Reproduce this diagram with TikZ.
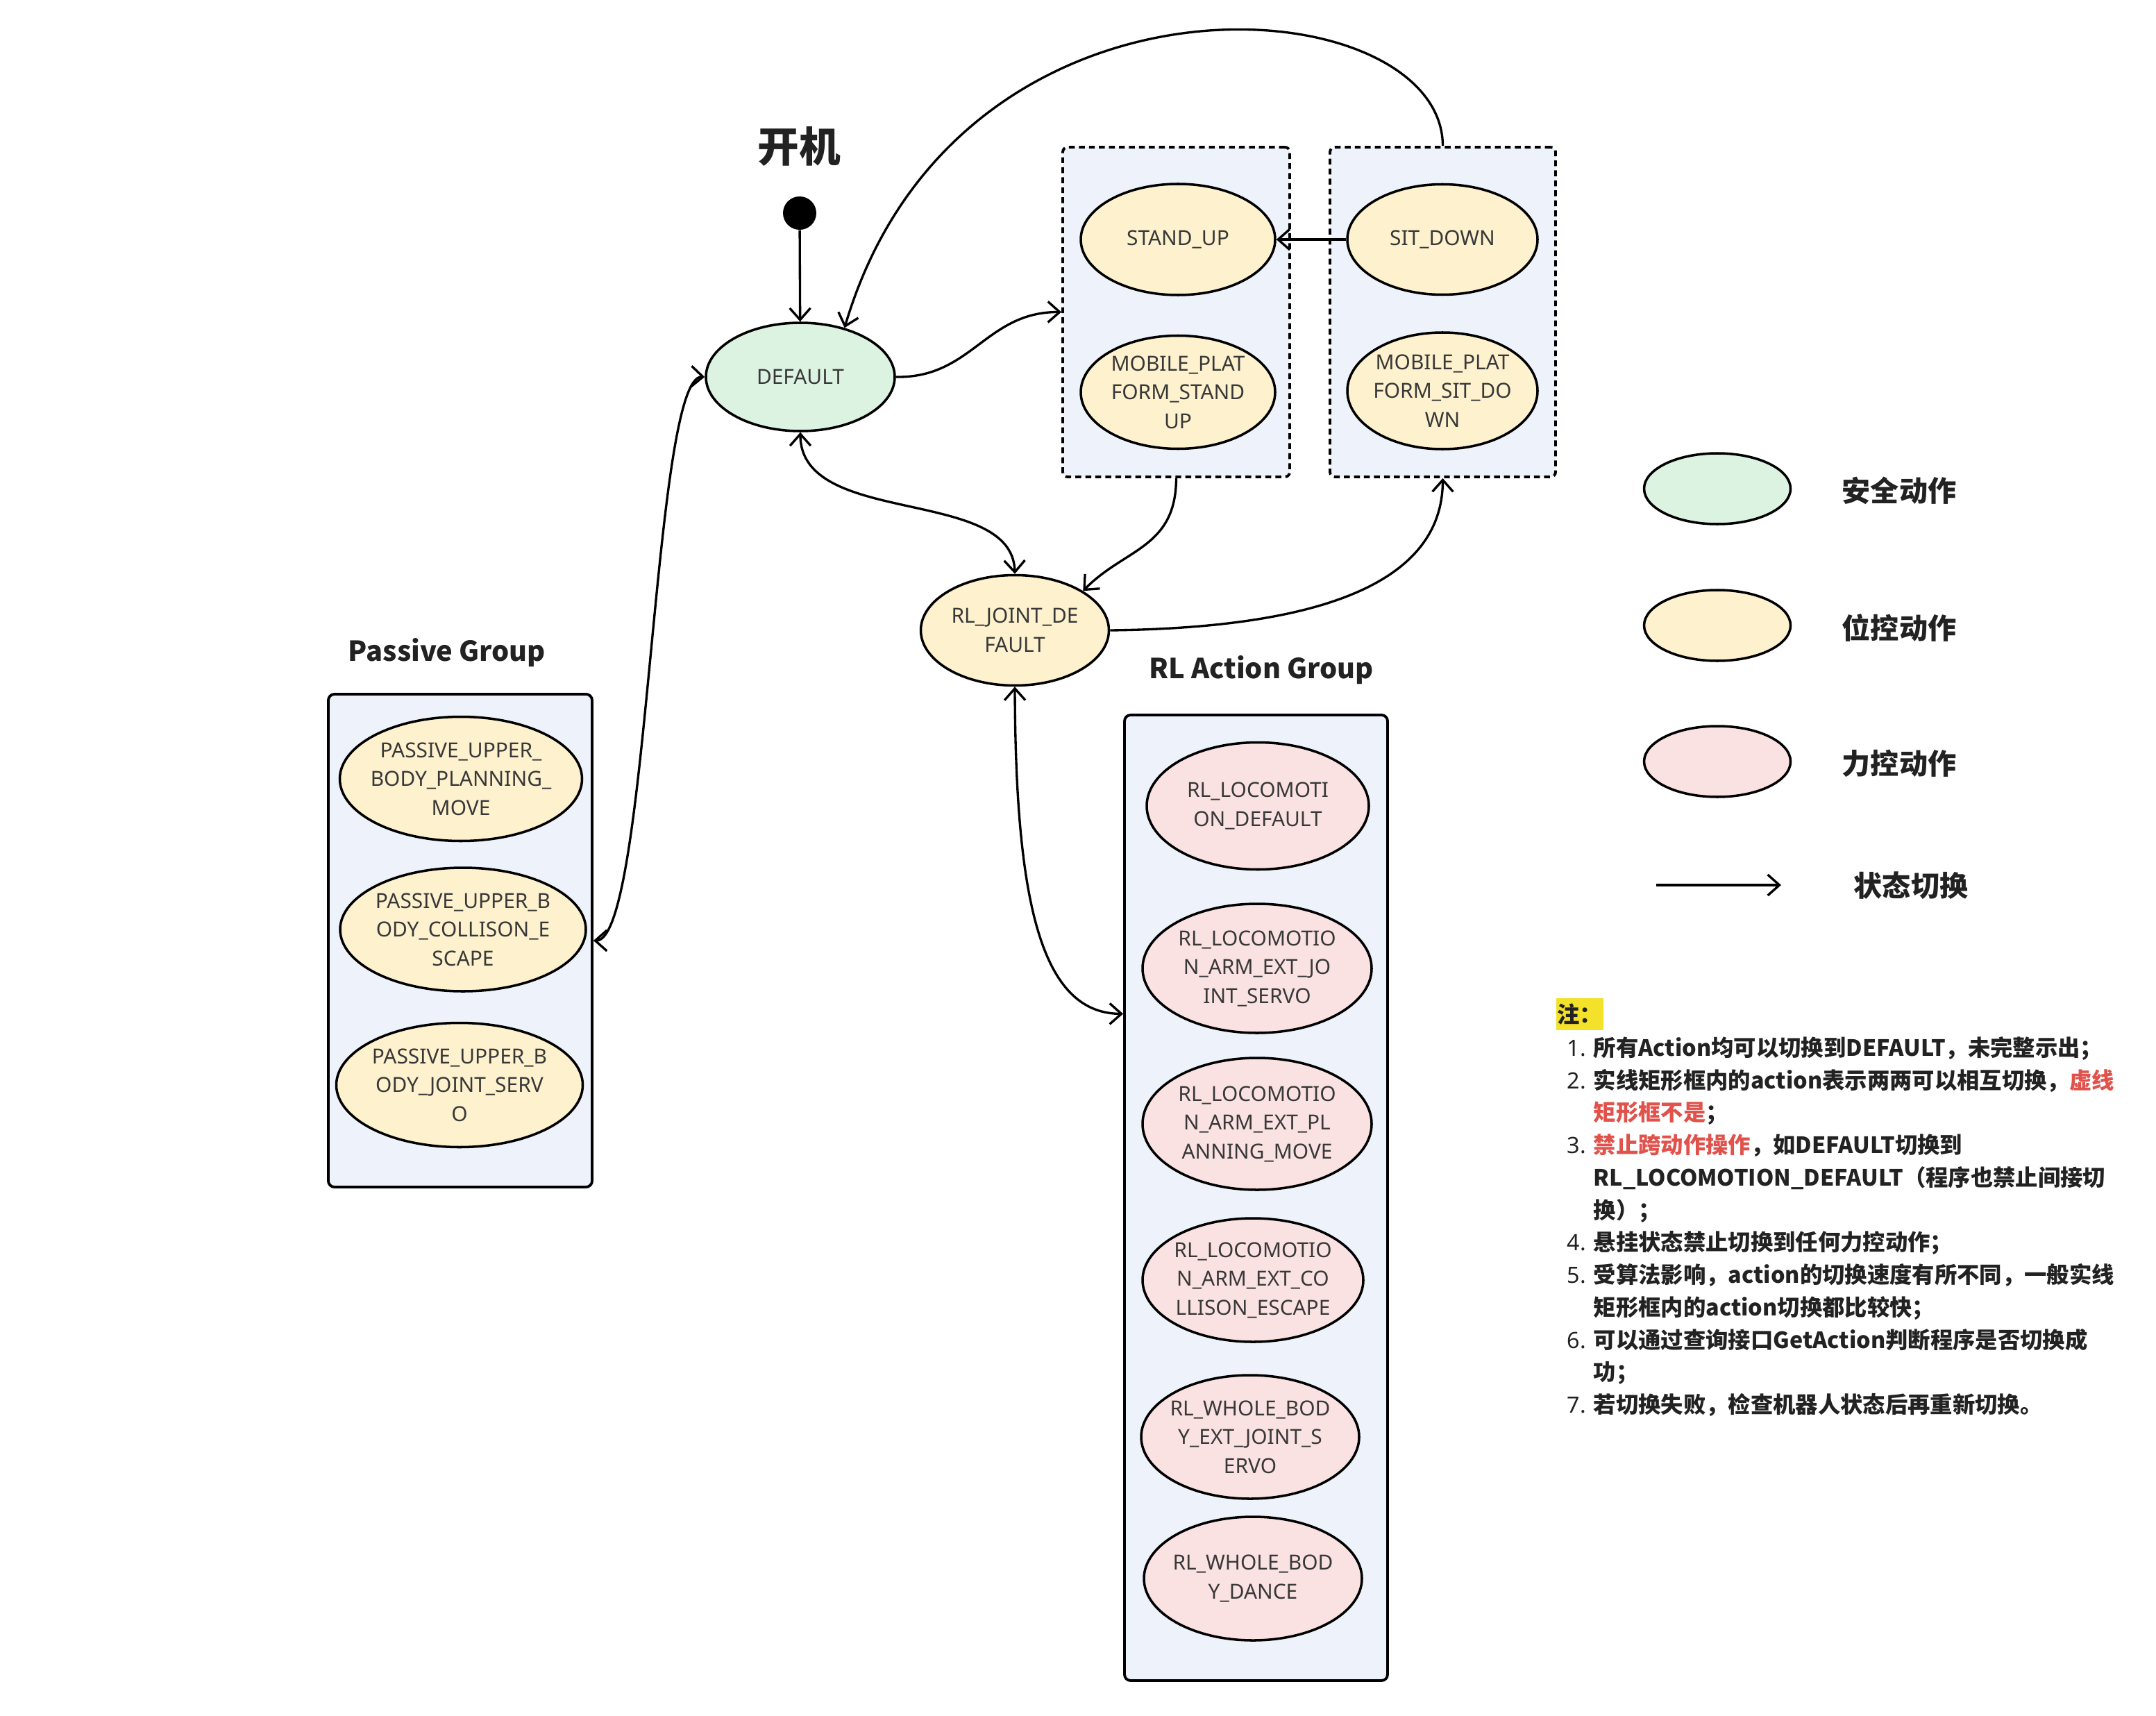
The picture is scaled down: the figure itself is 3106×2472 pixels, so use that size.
\documentclass[tikz,border=0pt]{standalone}
\usepackage{fontspec}
\setmainfont{Noto Sans}
\newfontfamily\cjk{Noto Sans CJK SC}
\usepackage{array}
\usepackage{xcolor}
\definecolor{safe}{HTML}{DDF3E2}
\definecolor{position}{HTML}{FDF1CE}
\definecolor{force}{HTML}{FBE2E2}
\definecolor{groupbg}{HTML}{EEF2FB}
\definecolor{ink}{HTML}{222222}
\definecolor{notered}{HTML}{E0524B}
\definecolor{hilite}{HTML}{F3E12A}
\usetikzlibrary{shapes.geometric, arrows.meta, calc}

\begin{document}
\begin{tikzpicture}[x=0.1mm, y=-0.1mm,
  every node/.style={font=\fontsize{8.5}{11.8}\selectfont, text=ink!90},
  act/.style={ellipse, draw, line width=1pt, align=center, inner ysep=0pt, inner xsep=-1.8mm},
  dashgrp/.style={draw, fill=groupbg, line width=1.1pt, dash pattern=on 2.4pt off 1.7pt, rounded corners=2pt},
  solidgrp/.style={draw, fill=groupbg, line width=1.1pt, rounded corners=2.5pt},
  grouptitle/.style={font=\cjk\bfseries\fontsize{11.3}{13}\selectfont, text=ink},
  keytext/.style={font=\cjk\bfseries\fontsize{11.7}{14}\selectfont, text=ink},
  arr/.style={-{Straight Barb[length=4.8pt,width=8.5pt]}, line width=0.95pt},
  biarr/.style={{Straight Barb[length=4.8pt,width=8.5pt]}-{Straight Barb[length=4.8pt,width=8.5pt]}, line width=0.95pt}]
  \useasboundingbox (0,0) rectangle (3106,2472);

  % group boxes
  \node[dashgrp, minimum width=3.27cm, minimum height=4.75cm] (standgrp) at (1694.5,449.5) {};
  \node[dashgrp, minimum width=3.25cm, minimum height=4.75cm] (sitgrp) at (2078.5,449.5) {};
  \node[solidgrp, minimum width=3.80cm, minimum height=7.10cm] (passivegrp) at (663,1355) {};
  \node[solidgrp, minimum width=3.79cm, minimum height=13.91cm] (rlgrp) at (1809.5,1725.5) {};

  \node[grouptitle] (passivetitle) at (644,940) {Passive Group};
  \node[grouptitle] (rltitle) at (1817,965) {RL Action Group};

  % start
  \node[font=\cjk\bfseries\fontsize{17}{20}\selectfont, text=ink] (poweron) at (1151,211) {开机};
  \node[circle, fill=black, minimum size=0.48cm, inner sep=0pt] (start) at (1152,307) {};

  % safe / position actions
  \node[act, fill=safe, minimum width=2.72cm, minimum height=1.56cm] (default) at (1153,543) {DEFAULT};
  \node[act, fill=position, minimum width=2.80cm, minimum height=1.60cm] (standup) at (1697,345) {STAND\_UP};
  \node[act, fill=position, minimum width=2.80cm, minimum height=1.63cm] (mpstand) at (1697,565) {MOBILE\_PLAT\\FORM\_STAND\\UP};
  \node[act, fill=position, minimum width=2.74cm, minimum height=1.59cm] (sitdown) at (2078,345) {SIT\_DOWN};
  \node[act, fill=position, minimum width=2.74cm, minimum height=1.68cm] (mpsit) at (2078,563) {MOBILE\_PLAT\\FORM\_SIT\_DO\\WN};
  \node[act, fill=position, minimum width=2.71cm, minimum height=1.59cm] (rljoint) at (1462,908) {RL\_JOINT\_DE\\FAULT};

  % passive group
  \node[act, fill=position, minimum width=3.49cm, minimum height=1.79cm] (passplan) at (664,1122) {PASSIVE\_UPPER\_\\BODY\_PLANNING\_\\MOVE};
  \node[act, fill=position, minimum width=3.54cm, minimum height=1.78cm] (passcoll) at (667,1339) {PASSIVE\_UPPER\_B\\ODY\_COLLISON\_E\\SCAPE};
  \node[act, fill=position, minimum width=3.55cm, minimum height=1.79cm] (passservo) at (662,1563) {PASSIVE\_UPPER\_B\\ODY\_JOINT\_SERV\\O};

  % rl group
  \node[act, fill=force, minimum width=3.20cm, minimum height=1.83cm] (rlloco) at (1812,1161) {RL\_LOCOMOTI\\ON\_DEFAULT};
  \node[act, fill=force, minimum width=3.30cm, minimum height=1.86cm] (rlarmservo) at (1811,1395) {RL\_LOCOMOTIO\\N\_ARM\_EXT\_JO\\INT\_SERVO};
  \node[act, fill=force, minimum width=3.30cm, minimum height=1.90cm] (rlarmplan) at (1811,1619) {RL\_LOCOMOTIO\\N\_ARM\_EXT\_PL\\ANNING\_MOVE};
  \node[act, fill=force, minimum width=3.18cm, minimum height=1.78cm] (rlarmcoll) at (1805,1844) {RL\_LOCOMOTIO\\N\_ARM\_EXT\_CO\\LLISON\_ESCAPE};
  \node[act, fill=force, minimum width=3.14cm, minimum height=1.78cm] (rlwbservo) at (1801,2070) {RL\_WHOLE\_BOD\\Y\_EXT\_JOINT\_S\\ERVO};
  \node[act, fill=force, minimum width=3.14cm, minimum height=1.78cm] (rlwbdance) at (1805,2274) {RL\_WHOLE\_BOD\\Y\_DANCE};

  % transitions
  \draw[arr] (start) -- (default);
  \draw[arr] (sitgrp.north) .. controls (2078,-20) and (1380,-80) .. (default.48);
  \draw[arr] (default.east) .. controls (1400,545) and (1420,449) .. (standgrp.west);
  \draw[arr] (sitdown) -- (standup);
  \draw[biarr] (default.south) .. controls (1153,760) and (1459,700) .. (rljoint.north);
  \draw[arr] (standgrp.south) .. controls (1694,790) and (1620,790) .. (rljoint.30);
  \draw[arr] (rljoint.east) .. controls (1850,905) and (2078,860) .. (sitgrp.south);
  \draw[biarr] (passivegrp.east) .. controls (935,1355) and (940,540) .. (default.west);
  \draw[biarr] (rljoint.south) .. controls (1463,1300) and (1500,1460) .. ($(rlgrp.north west)!0.31!(rlgrp.south west)$);

  % legend
  \node[act, fill=safe, minimum width=2.11cm, minimum height=1.02cm] (keysafe) at (2474,704) {};
  \node[act, fill=position, minimum width=2.11cm, minimum height=1.02cm] (keypos) at (2474,901) {};
  \node[act, fill=force, minimum width=2.11cm, minimum height=1.02cm] (keyforce) at (2474,1097) {};
  \node[keytext] (keysafetext) at (2736,707) {安全动作};
  \node[keytext] (keypostext) at (2736,904) {位控动作};
  \node[keytext] (keyforcetext) at (2736,1100) {力控动作};
  \coordinate (keyfrom) at (2386,1275);
  \coordinate (keyto) at (2566,1275);
  \draw[arr] (keyfrom) -- (keyto);
  \node[keytext] (keyswitch) at (2753,1276) {状态切换};

  % notes
  \node[fill=hilite, inner xsep=0.5pt, inner ysep=2.2pt, anchor=north west,
    font=\cjk\bfseries\fontsize{9.2}{11}\selectfont, text=ink] (notehead) at (2241,1437) {注：};
  \node[anchor=north west, inner sep=0pt, text=ink] (notes) at (2257,1488)
    {\fontsize{9.2}{13.3}\selectfont
     \begin{tabular}{@{}>{\normalfont}r@{\hspace{1.1mm}}>{\cjk\bfseries}l@{}}
      1. & 所有Action均可以切换到DEFAULT，未完整示出；\\
      2. & 实线矩形框内的action表示两两可以相互切换，\textcolor{notered}{虚线}\\
         & \textcolor{notered}{矩形框不是}；\\
      3. & \textcolor{notered}{禁止跨动作操作}，如DEFAULT切换到\\
         & RL\_LOCOMOTION\_DEFAULT（程序也禁止间接切\\
         & 换）；\\
      4. & 悬挂状态禁止切换到任何力控动作；\\
      5. & 受算法影响，action的切换速度有所不同，一般实线\\
         & 矩形框内的action切换都比较快；\\
      6. & 可以通过查询接口GetAction判断程序是否切换成\\
         & 功；\\
      7. & 若切换失败，检查机器人状态后再重新切换。
     \end{tabular}};
\end{tikzpicture}
\end{document}
